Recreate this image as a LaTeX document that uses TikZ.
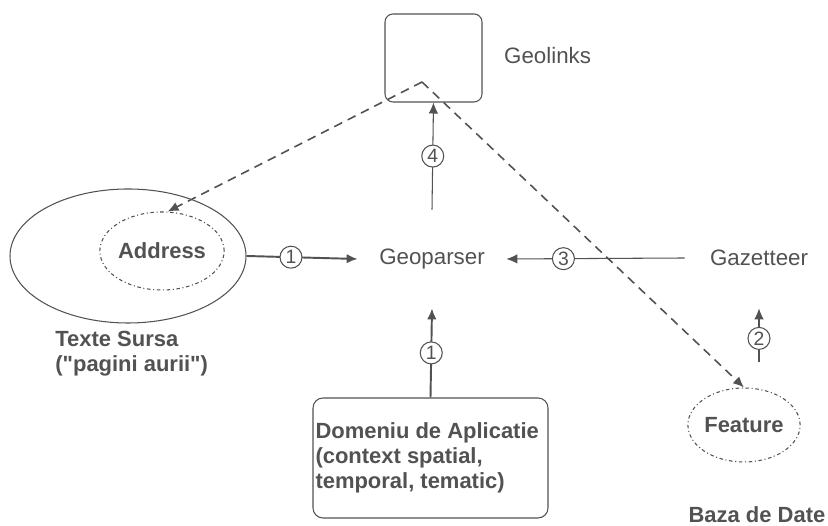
\documentclass[tikz,border=0pt]{standalone}
\usepackage{fontspec}
\setmainfont{Liberation Sans}
\usetikzlibrary{arrows.meta,shapes.geometric}

\newcommand\dq{\XeTeXglyph\XeTeXcharglyph"22\relax}
\colorlet{ink}{black!68}
\tikzstyle{txt} = [text=ink, font=\fontsize{12.7}{14.2}\selectfont]
\tikzstyle{bold} = [txt, font=\fontsize{12.5}{14.2}\selectfont\bfseries]
\tikzstyle{num} = [circle, draw=ink, fill=white, line width=0.6pt, inner sep=0pt, minimum size=0.44cm, text=ink, font=\fontsize{11}{12}\selectfont]
\tikzstyle{flow} = [draw=ink, line width=0.6pt, -{Latex[length=2.2mm,width=1.9mm]}]
\tikzstyle{flowthick} = [flow, line width=1.1pt]
\tikzstyle{dashflow} = [flow, line width=0.9pt, dash pattern=on 5pt off 3.5pt]
\tikzstyle{dotring} = [ellipse, draw=ink, line width=0.6pt, dash pattern=on 2pt off 1.5pt on 0.6pt off 1.5pt, bold]

\begin{document}
\begin{tikzpicture}
\useasboundingbox (0,0) rectangle (16.56,10.52);
%\draw[step=1cm, very thin,black!20] (0,0) grid (16.56,10.52);
\node[draw=ink, line width=0.6pt, rounded corners=0.16cm, minimum width=1.94cm, minimum height=1.76cm] (links) at (8.67,9.36) {};
\node[txt, anchor=west] at (9.96,9.40) {Geolinks};
\coordinate (peak) at (8.44,8.88);

\node[ellipse, draw=ink, line width=0.6pt, minimum width=4.72cm, minimum height=2.68cm] (src) at (2.56,5.40) {};
\node[dotring, minimum width=1.76cm, minimum height=1.56cm, inner sep=0pt] (addr) at (3.24,5.50) {Address};
\node[bold, anchor=north west, align=left, inner sep=0pt] at (1.10,3.90) {Texte Sursa\\(\dq pagini aurii\dq)};

\node[txt, minimum width=2.96cm, minimum height=1.96cm] (geo) at (8.64,5.34) {Geoparser};
\node[txt, minimum width=2.96cm, minimum height=2cm] (gaz) at (15.18,5.36) {Gazetteer};

\node[dotring, minimum width=1.7cm, minimum height=1.48cm, inner sep=0pt] (feat) at (14.88,2.02) {Feature};
\node[bold] at (15.14,0.22) {Baza de Date};

\node[draw=ink, line width=0.6pt, rounded corners=0.2cm, bold, align=flush left, text width=4.6cm, inner xsep=0.05cm, minimum height=2.4cm] (dom) at (8.61,1.36) {Domeniu de Aplicatie\\(context spatial,\\temporal, tematic)};

\draw[flowthick] (src.east) -- (geo.west) node[num, pos=0.4] {1};
\draw[flow] (gaz.west) -- (geo.east) node[num, pos=0.68] {3};
\draw[flow] (geo.north) -- (links.south) node[num, midway] {4};
\draw[flowthick] (dom.north) -- (geo.south) node[num, midway] {1};
\draw[flow, shorten <=0.5cm] (feat.north -| gaz.south) -- (gaz.south) node[num, pos=0.62] {2};

\draw[dashflow] (peak) -- (addr.82);
\draw[dashflow] (peak) -- (feat.north);
\end{tikzpicture}
\end{document}
